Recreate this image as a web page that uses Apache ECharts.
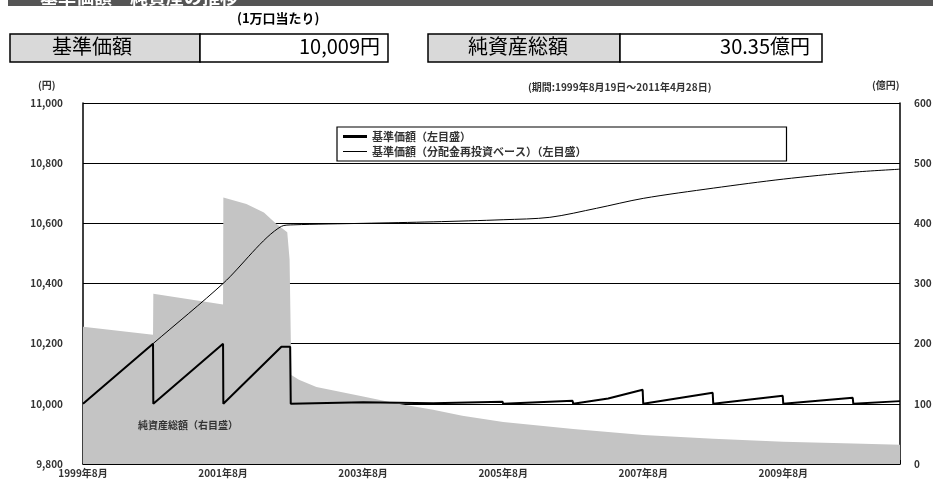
<!DOCTYPE html>
<html>
<head>
<meta charset="utf-8">
<script src="https://cdn.jsdelivr.net/npm/echarts@6/dist/echarts.min.js"></script>
<style>
html,body{margin:0;padding:0;background:#fff;}
#chart{width:941px;height:486px;}
</style>
</head>
<body>
<div id="chart"></div>
<script>
// x = months since 1999年8月
var navMonths   = [0, 12, 12.05, 24, 24.05, 28, 31, 33, 35, 35.4, 35.7, 37, 40, 44, 48, 54, 60, 65, 72, 84, 96, 108, 120, 132, 140];
var navValues   = [228, 215, 283, 265, 443, 432, 418, 400, 385, 340, 148, 140, 128, 120, 112, 100, 90, 80, 70, 58, 48, 42, 37, 34, 32];

var priceMonths = [0, 12, 12.05, 24, 24.05, 34, 35.5, 35.6, 48, 60, 71.9, 72, 83.9, 84, 90, 95.9, 96, 107.9, 108, 119.9, 120, 131.9, 132, 140];
var priceValues = [10000, 10200, 10000, 10200, 10000, 10190, 10190, 10000, 10005, 10002, 10007, 10000, 10010, 10000, 10018, 10047, 10000, 10037, 10000, 10027, 10000, 10020, 10000, 10009];

var reinvMonths = [0, 12, 24, 34, 36, 48, 60, 72, 80, 88, 96, 108, 120, 132, 140];
var reinvValues = [10000, 10200, 10400, 10590, 10595, 10600, 10605, 10612, 10620, 10650, 10683, 10717, 10747, 10770, 10780];

var xTickLabels = ['1999年8月', '2001年8月', '2003年8月', '2005年8月', '2007年8月', '2009年8月'];

var nameA = '基準価額（左目盛）';
var nameB = '基準価額（分配金再投資ベース）（左目盛）';

function zip(xs, ys) {
    var arr = [];
    for (var i = 0; i < xs.length; i++) {
        arr.push([xs[i], ys[i]]);
    }
    return arr;
}

var chart = echarts.init(document.getElementById('chart'));
var font = '"Noto Sans CJK JP", sans-serif';

var option = {
    animation: false,
    textStyle: {fontFamily: font},
    grid: {left: 83, right: 41, top: 103, bottom: 22},
    legend: {
        left: 337, top: 127, orient: 'vertical',
        width: 446, itemGap: 4, padding: [4, 200, 4, 6],
        borderColor: '#000', borderWidth: 1.2, backgroundColor: '#fff',
        itemWidth: 24, itemHeight: 12,
        textStyle: {fontSize: 11, fontWeight: 'bold', color: '#333'},
        data: [
            {name: nameA, icon: 'path://M0,5 L24,5 L24,8 L0,8 Z'},
            {name: nameB, icon: 'path://M0,6 L24,6 L24,7 L0,7 Z'}
        ]
    },
    xAxis: {
        type: 'value', min: 0, max: 140, interval: 24,
        axisLine: {lineStyle: {color: '#000', width: 1.5}},
        axisTick: {inside: true, length: 4, lineStyle: {color: '#000'}},
        axisLabel: {
            fontSize: 10, fontWeight: 'bold', color: '#333', margin: 4,
            formatter: function (v) { return xTickLabels[v / 24] || ''; }
        },
        splitLine: {show: false}
    },
    yAxis: [{
        type: 'value', min: 9800, max: 11000, interval: 200,
        axisLine: {show: true, lineStyle: {color: '#000', width: 1.5}},
        axisTick: {show: false},
        axisLabel: {
            fontSize: 10, fontWeight: 'bold', color: '#333', margin: 20,
            formatter: function (v) { return v.toLocaleString('en-US'); }
        },
        splitLine: {lineStyle: {color: '#000', width: 1.2}}
    }, {
        type: 'value', min: 0, max: 600, interval: 100,
        axisLine: {show: true, lineStyle: {color: '#000', width: 1.5}},
        axisTick: {show: false},
        axisLabel: {fontSize: 10, fontWeight: 'bold', color: '#333', margin: 14},
        splitLine: {show: false}
    }],
    series: [{
        name: '純資産総額', type: 'line', yAxisIndex: 1, z: 1,
        data: zip(navMonths, navValues), symbol: 'none',
        lineStyle: {width: 0}, areaStyle: {color: '#c4c4c4', opacity: 1}
    }, {
        name: nameA, type: 'line', yAxisIndex: 0, z: 3,
        data: zip(priceMonths, priceValues), symbol: 'none',
        lineStyle: {color: '#000', width: 2}, itemStyle: {color: '#000'}
    }, {
        name: nameB, type: 'line', yAxisIndex: 0, z: 3,
        data: zip(reinvMonths, reinvValues), symbol: 'none', smooth: 0.3,
        lineStyle: {color: '#000', width: 1}, itemStyle: {color: '#000'}
    }],
    graphic: [
        {type: 'rect', shape: {x: 8, y: -10, width: 925, height: 16}, style: {fill: '#555'}},
        {type: 'text', left: 40, top: -12, style: {text: '基準価額・純資産の推移', fill: '#fff', font: 'bold 18px ' + font}},
        {type: 'text', left: 237, top: 12, style: {text: '(1万口当たり)', fill: '#000', font: 'bold 13px ' + font}},
        {type: 'rect', shape: {x: 10, y: 34, width: 190, height: 28}, style: {fill: '#d9d9d9', stroke: '#000', lineWidth: 1.5}},
        {type: 'rect', shape: {x: 200, y: 34, width: 188, height: 28}, style: {fill: '#fff', stroke: '#000', lineWidth: 1.5}},
        {type: 'text', left: 52, top: 36, style: {text: '基準価額', fill: '#000', font: '20px ' + font}},
        {type: 'text', right: 941 - 380, top: 36, style: {text: '10,009円', fill: '#000', font: '20px ' + font}},
        {type: 'rect', shape: {x: 428, y: 34, width: 192, height: 28}, style: {fill: '#d9d9d9', stroke: '#000', lineWidth: 1.5}},
        {type: 'rect', shape: {x: 620, y: 34, width: 202, height: 28}, style: {fill: '#fff', stroke: '#000', lineWidth: 1.5}},
        {type: 'text', left: 468, top: 36, style: {text: '純資産総額', fill: '#000', font: '20px ' + font}},
        {type: 'text', right: 941 - 810, top: 36, style: {text: '30.35億円', fill: '#000', font: '20px ' + font}},
        {type: 'text', left: 38, top: 80, style: {text: '(円)', fill: '#333', font: 'bold 10px ' + font}},
        {type: 'text', left: 528, top: 82, style: {text: '(期間:1999年8月19日～2011年4月28日)', fill: '#333', font: 'bold 10px ' + font}},
        {type: 'text', left: 872, top: 80, style: {text: '(億円)', fill: '#333', font: 'bold 10px ' + font}},
        {type: 'text', left: 138, top: 420, z: 10, style: {text: '純資産総額（右目盛）', fill: '#333', font: 'bold 10px ' + font}}
    ]
};

chart.setOption(option);
</script>
</body>
</html>
